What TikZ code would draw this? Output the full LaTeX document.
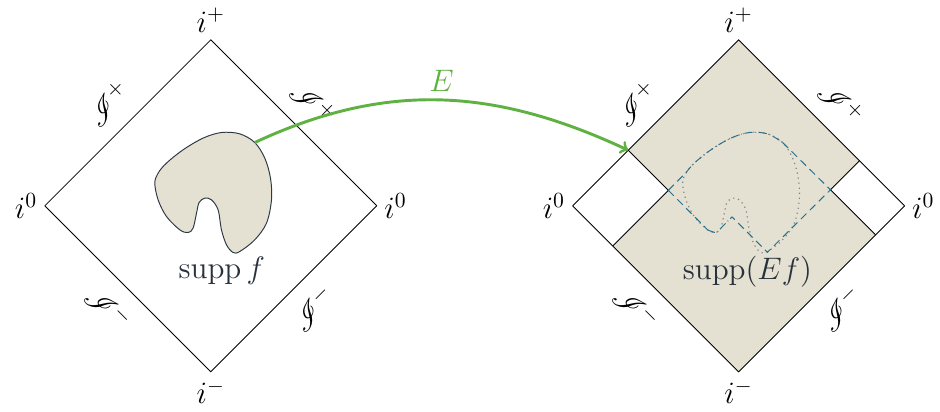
\documentclass[tikz,border=0pt]{standalone}
\usepackage{amsmath}
\usepackage{mathrsfs}

\definecolor{suppfill}{RGB}{228,225,210}
\definecolor{suppedge}{RGB}{45,58,68}
\definecolor{supptext}{RGB}{40,50,60}
\definecolor{mapgreen}{RGB}{95,178,66}
\definecolor{hullteal}{RGB}{40,112,140}

% outline of the support, relative to the centre of a diagram
\newcommand{\suppblob}{plot[smooth cycle, tension=0.55] coordinates {
  (-1.012,0.410) (-0.952,0.591) (-0.801,0.772) (-0.501,1.012) (-0.139,1.224)
  (0.193,1.325) (0.524,1.301) (0.795,1.144) (0.976,0.862) (1.079,0.501)
  (1.097,0.108) (1.007,-0.313) (0.795,-0.614) (0.524,-0.826) (0.403,-0.844)
  (0.284,-0.705) (0.193,-0.434) (0.132,-0.072) (0.013,0.108) (-0.108,0.139)
  (-0.211,0.060) (-0.258,-0.132) (-0.320,-0.403) (-0.410,-0.483) (-0.560,-0.434)
  (-0.801,-0.193) (-0.952,0.108)}}

\begin{document}
\begin{tikzpicture}[
  every node/.style={font=\Large, scale=1.11},
  edge/.style={draw=black, line width=0.45pt},
  scri/.style={sloped, inner sep=7pt},
  blobline/.style={draw=suppedge, line width=0.5pt, fill=suppfill},
  blobdots/.style={draw=gray, dotted, line width=0.6pt},
  hulldash/.style={draw=hullteal, line width=0.5pt, dash pattern=on 4pt off 2.5pt},
  hulldashdot/.style={draw=hullteal, line width=0.5pt, dash pattern=on 4pt off 1.5pt on 0.4pt off 1.5pt},
  fmap/.style={draw=mapgreen, line width=1.5pt, ->}
]
\useasboundingbox (-3.81,-3.72) rectangle (13.18,3.72);

% left diagram
\coordinate (lt) at (0,3);
\coordinate (ll) at (-3,0);
\coordinate (lb) at (0,-3);
\coordinate (lr) at (3,0);
\draw[edge] (ll) -- node[scri, above] (lscrA) {$\mathscr{I}^+$} (lt)
  -- node[scri, above] (lscrB) {$\mathscr{I}^+$} (lr);
\draw[edge] (ll) -- node[scri, below] (lscrC) {$\mathscr{I}^-$} (lb)
  -- node[scri, below] (lscrD) {$\mathscr{I}^-$} (lr);
\node[above] (liplus) at (lt) {$i^+$};
\node[below] (liminus) at (lb) {$i^-$};
\node[left] (lizeroA) at (ll) {$i^0$};
\node[right] (lizeroB) at (lr) {$i^0$};
\path[blobline] \suppblob;
\node[text=supptext] (lsupp) at (0.2,-1.17) {$\operatorname{supp} f$};
\coordinate (fs) at (0.795,1.144);

% right diagram
\begin{scope}[xshift=9.54cm]
\coordinate (rt) at (0,3);
\coordinate (rl) at (-3,0);
\coordinate (rb) at (0,-3);
\coordinate (rr) at (3,0);
\coordinate (hl) at (-1.27,0.28);
\coordinate (hr) at (1.66,0.29);
\coordinate (hb) at (0.52,-0.84);
\coordinate (p1) at (-1.995,1.005);
\coordinate (p2) at (-2.275,-0.725);
\coordinate (p3) at (2.475,-0.525);
\coordinate (p4) at (2.185,0.815);
\coordinate (tl) at (-0.952,0.598);
\coordinate (tr) at (0.795,1.144);
\coordinate (lobe) at (-0.56,-0.434);
\coordinate (kk) at (-0.12,-0.2);
\fill[suppfill] (rt) -- (p1) -- (hl) -- (p2) -- (rb) -- (p3) -- (hr) -- (p4) -- cycle;
\draw[edge] (rl) -- node[scri, above] (rscrA) {$\mathscr{I}^+$} (rt)
  -- node[scri, above] (rscrB) {$\mathscr{I}^+$} (rr);
\draw[edge] (rl) -- node[scri, below] (rscrC) {$\mathscr{I}^-$} (rb)
  -- node[scri, below] (rscrD) {$\mathscr{I}^-$} (rr);
\draw[edge] (p1) -- (hl) -- (p2);
\draw[edge] (p4) -- (hr) -- (p3);
\node[above] (riplus) at (rt) {$i^+$};
\node[below] (riminus) at (rb) {$i^-$};
\node[left] (rizeroA) at (rl) {$i^0$};
\node[right] (rizeroB) at (rr) {$i^0$};
\path[blobdots] \suppblob;
\draw[hulldash] (hl) -- (tl);
\draw[hulldash] (tr) -- (hr) -- (hb) -- (kk);
\draw[hulldash] (hl) -- (lobe);
\draw[hulldashdot] plot[smooth, tension=0.55] coordinates {(-0.952,0.598) (-0.801,0.772)
  (-0.501,1.012) (-0.139,1.224) (0.193,1.325) (0.524,1.301) (0.795,1.144)};
\draw[hulldashdot] plot[smooth] coordinates {(-0.56,-0.434) (-0.410,-0.483) (-0.320,-0.403)} -- (kk);
\fill[hullteal] (hl) circle (0.6pt) (hr) circle (0.6pt);
\node[text=supptext] (rsupp) at (0.16,-1.2) {$\operatorname{supp}(Ef)$};
\end{scope}

% the map E
\draw[fmap] (fs) to[out=25, in=155] node[above, text=mapgreen] (Elabel) {$E$} (p1);
\end{tikzpicture}
\end{document}
